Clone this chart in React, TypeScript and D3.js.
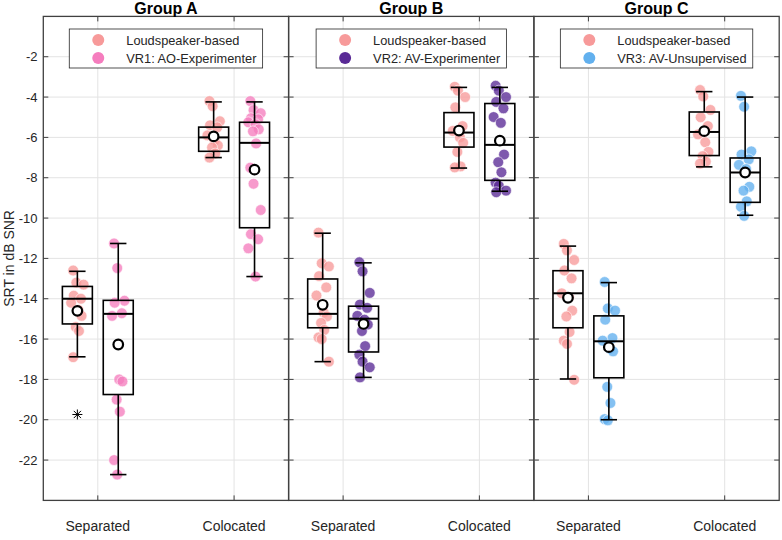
import React from "react";
import * as d3 from "d3";

const groups = ["Group A", "Group B", "Group C"];
const conditions = ["Separated", "Colocated"];
const lsLabel = "Loudspeaker-based";
const vrLabels = ["VR1: AO-Experimenter", "VR2: AV-Experimenter", "VR3: AV-Unsupervised"];
const yTicks = [-2, -4, -6, -8, -10, -12, -14, -16, -18, -20, -22];

// box stats: [whiskerLow, q1, median, q3, whiskerHigh, mean]
const lsSepStats = [
  [-16.88, -15.25, -14.0, -13.39, -12.64, -14.6],
  [-17.12, -15.44, -14.75, -13.02, -10.75, -14.3],
  [-17.98, -15.44, -13.73, -12.61, -11.39, -13.95],
];
const vrSepStats = [
  [-22.72, -18.75, -14.75, -14.08, -11.26, -16.27],
  [-17.9, -16.64, -14.99, -14.37, -12.22, -15.25],
  [-20.0, -17.92, -16.11, -14.85, -13.2, -16.4],
];
const lsColStats = [
  [-7.0, -6.69, -6.0, -5.49, -4.24, -5.95],
  [-7.52, -6.48, -5.76, -4.77, -3.52, -5.66],
  [-7.46, -6.9, -5.73, -4.74, -3.73, -5.69],
];
const vrColStats = [
  [-12.9, -10.48, -6.27, -5.25, -4.24, -7.6],
  [-8.67, -8.13, -6.37, -4.32, -3.52, -6.16],
  [-9.86, -9.22, -7.74, -7.02, -4.0, -7.74],
];
const lsSepOutliers = [[-19.74], [], []];

const lsSepPts = [
  [-12.6, -13.2, -13.3, -13.85, -14.0, -14.2, -14.55, -14.85, -15.4, -15.6, -16.9],
  [-10.72, -12.24, -12.4, -12.88, -13.44, -13.84, -14.69, -14.88, -15.2, -15.55, -15.92, -16.0, -17.12],
  [-11.28, -11.6, -12.08, -12.6, -12.99, -13.73, -13.92, -14.59, -14.88, -15.65, -16.08, -16.24, -18.02],
];
const vrSepPts = [
  [-11.26, -12.48, -14.1, -14.2, -14.72, -14.85, -18.0, -18.1, -19.0, -19.6, -22.0, -22.72],
  [-12.19, -12.64, -13.71, -14.29, -14.45, -14.85, -15.04, -15.28, -15.6, -16.35, -16.77, -17.12, -17.4, -17.9],
  [-13.17, -14.48, -14.59, -15.04, -15.95, -16.08, -16.48, -16.61, -18.37, -19.17, -19.97, -20.03],
];
const lsColPts = [
  [-4.2, -4.45, -5.2, -5.4, -5.5, -5.9, -6.15, -6.4, -6.5, -6.8, -7.0],
  [-3.49, -3.68, -4.0, -4.51, -5.44, -5.68, -6.0, -6.27, -6.72, -7.44, -7.49],
  [-3.65, -3.97, -4.64, -5.0, -5.44, -5.85, -6.24, -6.72, -6.93, -7.2, -7.3],
];
const vrColPts = [
  [-4.2, -4.65, -4.8, -5.05, -5.1, -5.25, -5.35, -5.6, -5.7, -6.3, -7.5, -8.3, -9.6, -10.8, -11.05, -11.5, -12.9],
  [-3.44, -3.68, -4.0, -4.24, -4.56, -4.99, -5.28, -6.85, -7.23, -7.73, -8.24, -8.4, -8.64, -8.72],
  [-3.94, -4.48, -6.69, -6.85, -7.09, -7.36, -7.57, -8.45, -8.64, -9.17, -9.44, -9.89],
];

const lsColor = "#F79A9A";
const vrColors = ["#F57DBE", "#5A2A96", "#62B0EE"];

const W = 782;
const H = 540;
const plotLeft = 43.3;
const plotTop = 16.4;
const plotBottom = 500.4;
const panelW = 245.3;
const FONT = "'Liberation Sans', Arial, Helvetica, sans-serif";
const TXT = "#262626";

const y = d3.scaleLinear().domain([-24, 0]).range([plotBottom, plotTop]);

function measure(text: string, size: number) {
  try {
    const c = document.createElement("canvas");
    const ctx = c.getContext("2d");
    if (ctx) {
      ctx.font = `${size}px 'Liberation Sans', Arial`;
      return ctx.measureText(text).width;
    }
  } catch (e) {}
  return text.length * size * 0.52;
}

function jitter(i: number) {
  return (((i * 7) % 5) - 2) * 2.6 + (i % 2 === 0 ? 1 : -1);
}

function Box({ x, stats, w, cap }: { x: number; stats: number[]; w: number; cap: number }) {
  const [lo, q1, med, q3, hi] = stats;
  return (
    <g stroke="#000" strokeWidth={1.6} fill="none">
      <line x1={x} x2={x} y1={y(hi)} y2={y(q3)} />
      <line x1={x} x2={x} y1={y(q1)} y2={y(lo)} />
      <line x1={x - cap / 2} x2={x + cap / 2} y1={y(hi)} y2={y(hi)} />
      <line x1={x - cap / 2} x2={x + cap / 2} y1={y(lo)} y2={y(lo)} />
      <rect x={x - w / 2} y={y(q3)} width={w} height={y(q1) - y(q3)} />
      <line x1={x - w / 2} x2={x + w / 2} y1={y(med)} y2={y(med)} strokeWidth={2} />
    </g>
  );
}

function Points({ x, pts, color }: { x: number; pts: number[]; color: string }) {
  return (
    <g>
      {pts.map((v, i) => (
        <circle key={i} cx={x + jitter(i)} cy={y(v)} r={5.4} fill={color} fillOpacity={0.78} stroke="#fff" strokeWidth={0.6} />
      ))}
    </g>
  );
}

function Mean({ x, v }: { x: number; v: number }) {
  return <circle cx={x} cy={y(v)} r={4.8} fill="#fff" stroke="#000" strokeWidth={2.2} />;
}

function Asterisk({ x, v }: { x: number; v: number }) {
  const cy = y(v);
  const s = 5;
  const d = s * 0.72;
  return (
    <g stroke="#000" strokeWidth={1}>
      <line x1={x} x2={x} y1={cy - s} y2={cy + s} />
      <line x1={x - s} x2={x + s} y1={cy} y2={cy} />
      <line x1={x - d} x2={x + d} y1={cy - d} y2={cy + d} />
      <line x1={x - d} x2={x + d} y1={cy + d} y2={cy - d} />
    </g>
  );
}

function Panel({ gi }: { gi: number }) {
  const x0 = plotLeft + gi * panelW;
  const x = d3.scaleLinear().domain([0.6, 2.4]).range([x0, x0 + panelW]);
  const unit = x(2) - x(1);
  const off = 0.15;
  const bw = 0.22 * unit;
  const cap = 0.12 * unit;
  const tick = 5;
  const lsStats = [lsSepStats[gi], lsColStats[gi]];
  const vrStats = [vrSepStats[gi], vrColStats[gi]];
  const lsPts = [lsSepPts[gi], lsColPts[gi]];
  const vrPts = [vrSepPts[gi], vrColPts[gi]];
  const cx = x0 + panelW / 2;
  const legFont = 12.8;
  const tw = Math.max(measure(lsLabel, legFont), measure(vrLabels[gi], legFont));
  const legW = 57 + tw + 5.5;
  const legX = cx - legW / 2;
  const legY = 29;
  const legH = 39;
  return (
    <g>
      <g stroke="#e3e3e3" strokeWidth={1}>
        {yTicks.map((t) => (
          <line key={t} x1={x0} x2={x0 + panelW} y1={y(t)} y2={y(t)} />
        ))}
        {[1, 2].map((c) => (
          <line key={c} x1={x(c)} x2={x(c)} y1={plotTop} y2={plotBottom} />
        ))}
      </g>
      {[0, 1].map((ci) => (
        <g key={ci}>
          <Points x={x(ci + 1 - off)} pts={lsPts[ci]} color={lsColor} />
          <Points x={x(ci + 1 + off)} pts={vrPts[ci]} color={vrColors[gi]} />
          <Box x={x(ci + 1 - off)} stats={lsStats[ci]} w={bw} cap={cap} />
          <Box x={x(ci + 1 + off)} stats={vrStats[ci]} w={bw} cap={cap} />
          <Mean x={x(ci + 1 - off)} v={lsStats[ci][5]} />
          <Mean x={x(ci + 1 + off)} v={vrStats[ci][5]} />
        </g>
      ))}
      {lsSepOutliers[gi].map((v, i) => (
        <Asterisk key={i} x={x(1 - off)} v={v} />
      ))}
      <g stroke="#404040" strokeWidth={1}>
        {yTicks.map((t) => (
          <g key={t}>
            <line x1={x0} x2={x0 + tick} y1={y(t)} y2={y(t)} />
            <line x1={x0 + panelW - tick} x2={x0 + panelW} y1={y(t)} y2={y(t)} />
          </g>
        ))}
        {[1, 2].map((c) => (
          <g key={c}>
            <line x1={x(c)} x2={x(c)} y1={plotBottom} y2={plotBottom - tick} />
            <line x1={x(c)} x2={x(c)} y1={plotTop} y2={plotTop + tick} />
          </g>
        ))}
      </g>
      <rect x={x0} y={plotTop} width={panelW} height={plotBottom - plotTop} fill="none" stroke="#404040" strokeWidth={1.3} />
      {conditions.map((c, i) => (
        <text key={c} x={x(i + 1)} y={531} textAnchor="middle" fontFamily={FONT} fontSize={14} fill={TXT}>
          {c}
        </text>
      ))}
      <text x={cx} y={14} textAnchor="middle" fontFamily={FONT} fontSize={16} fontWeight="bold" fill="#000">
        {groups[gi]}
      </text>
      <g>
        <rect x={legX} y={legY} width={legW} height={legH} fill="#fff" stroke="#262626" strokeWidth={0.8} />
        <circle cx={legX + 29} cy={legY + 11} r={6} fill={lsColor} />
        <circle cx={legX + 29} cy={legY + 29} r={6} fill={vrColors[gi]} />
        <text x={legX + 57} y={legY + 15.6} fontFamily={FONT} fontSize={legFont} fill={TXT}>
          {lsLabel}
        </text>
        <text x={legX + 57} y={legY + 33.6} fontFamily={FONT} fontSize={legFont} fill={TXT}>
          {vrLabels[gi]}
        </text>
      </g>
    </g>
  );
}

export default function App() {
  return (
    <svg width={W} height={H} style={{ position: "absolute", left: 0, top: 0, background: "#fff" }}>
      <rect x={0} y={0} width={W} height={H} fill="#fff" />
      {groups.map((g, gi) => (
        <Panel key={g} gi={gi} />
      ))}
      {yTicks.map((t) => (
        <text key={t} x={37.5} y={y(t) + 4.6} textAnchor="end" fontFamily={FONT} fontSize={13} fill={TXT}>
          {t}
        </text>
      ))}
      <text transform={`translate(14, ${(plotTop + plotBottom) / 2}) rotate(-90)`} textAnchor="middle" fontFamily={FONT} fontSize={14} fill={TXT}>
        SRT in dB SNR
      </text>
    </svg>
  );
}
